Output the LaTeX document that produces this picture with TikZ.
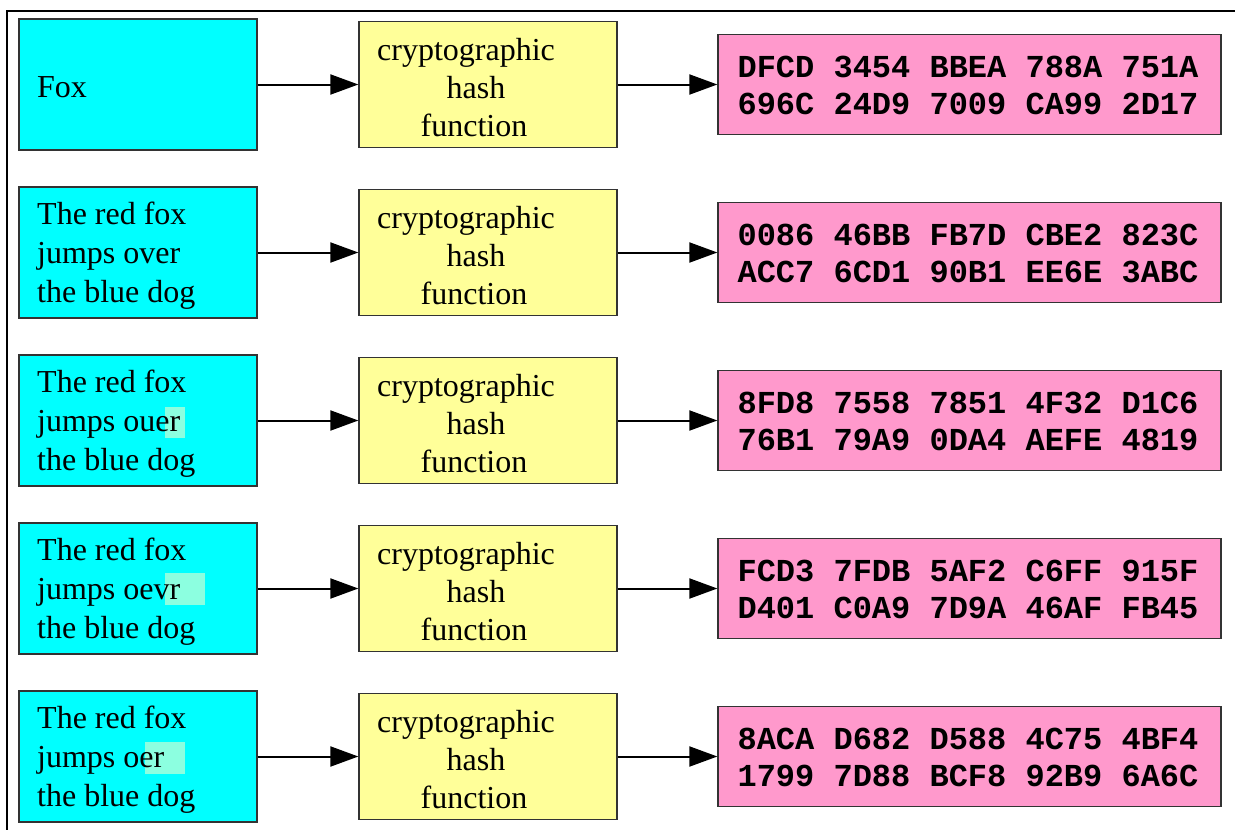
\documentclass[tikz,border=0pt]{standalone}
\usepackage{fontspec}
\setmainfont{Liberation Serif}
\setmonofont{Liberation Mono}
\usetikzlibrary{arrows.meta}
\definecolor{incol}{HTML}{00FFFF}
\definecolor{hashcol}{HTML}{FFFF99}
\definecolor{outcol}{HTML}{FF99CC}
\definecolor{hlcol}{HTML}{8CFFE0}
\definecolor{edgecol}{HTML}{333333}
\tikzset{
  inbox/.style={draw=edgecol, line width=1.3pt, fill=incol, minimum width=238pt, minimum height=131pt, inner sep=0pt},
  hashbox/.style={draw=edgecol, line width=1.3pt, fill=hashcol, minimum width=258pt, minimum height=126pt, inner sep=0pt},
  outbox/.style={draw=edgecol, line width=1.3pt, fill=outcol, minimum width=503pt, minimum height=100pt, inner sep=0pt},
  intext/.style={font=\fontsize{32}{39}\selectfont, align=left, anchor=west, inner sep=0pt},
  hashtext/.style={font=\fontsize{32}{38}\selectfont, align=center, inner sep=0pt},
  outtext/.style={font=\fontsize{32}{37}\selectfont\ttfamily\bfseries, align=center, inner sep=0pt},
  hl/.style={fill=hlcol, draw=none},
  conn/.style={line width=2pt, -{Triangle[length=28pt,width=20pt]}},
}
\begin{document}
\begin{tikzpicture}[x=1pt,y=-1pt]
\useasboundingbox (0,0) rectangle (1235,830);
\draw[line width=2pt] (6.5,830) -- (6.5,10.5) -- (1235,10.5);

% boxes
\foreach \i in {1,...,5}{
  \pgfmathsetmacro{\cy}{84.5+168*(\i-1)}
  \node[inbox] (in\i) at (138,\cy) {};
  \node[hashbox] (hash\i) at (488,\cy) {};
  \node[outbox] (out\i) at (969.5,\cy) {};
  \node[hashtext] (ht\i) at (466,\cy+3) {cryptographic\\\hspace*{20pt}hash\\\hspace*{16pt}function};
  \draw[conn] (in\i.east) -- (hash\i.west);
  \draw[conn] (hash\i.east) -- (out\i.west);
}

% highlights
\fill[hl] (165,407) rectangle (185,438);
\fill[hl] (165,573) rectangle (205,605);
\fill[hl] (145,742) rectangle (185,774);

% input texts
\node[intext] (it1) at (37,87) {Fox};
\node[intext] (it2) at (37,256) {The red fox\\jumps over\\the blue dog};
\node[intext] (it3) at (37,424) {The red fox\\jumps ouer\\the blue dog};
\node[intext] (it4) at (37,592) {The red fox\\jumps oevr\\the blue dog};
\node[intext] (it5) at (37,760) {The red fox\\jumps oer\\the blue dog};

% hash outputs
\node[outtext] (ot1) at (968,85.5) {DFCD 3454 BBEA 788A 751A\\696C 24D9 7009 CA99 2D17};
\node[outtext] (ot2) at (968,253.5) {0086 46BB FB7D CBE2 823C\\ACC7 6CD1 90B1 EE6E 3ABC};
\node[outtext] (ot3) at (968,421.5) {8FD8 7558 7851 4F32 D1C6\\76B1 79A9 0DA4 AEFE 4819};
\node[outtext] (ot4) at (968,589.5) {FCD3 7FDB 5AF2 C6FF 915F\\D401 C0A9 7D9A 46AF FB45};
\node[outtext] (ot5) at (968,757.5) {8ACA D682 D588 4C75 4BF4\\1799 7D88 BCF8 92B9 6A6C};
\end{tikzpicture}
\end{document}
